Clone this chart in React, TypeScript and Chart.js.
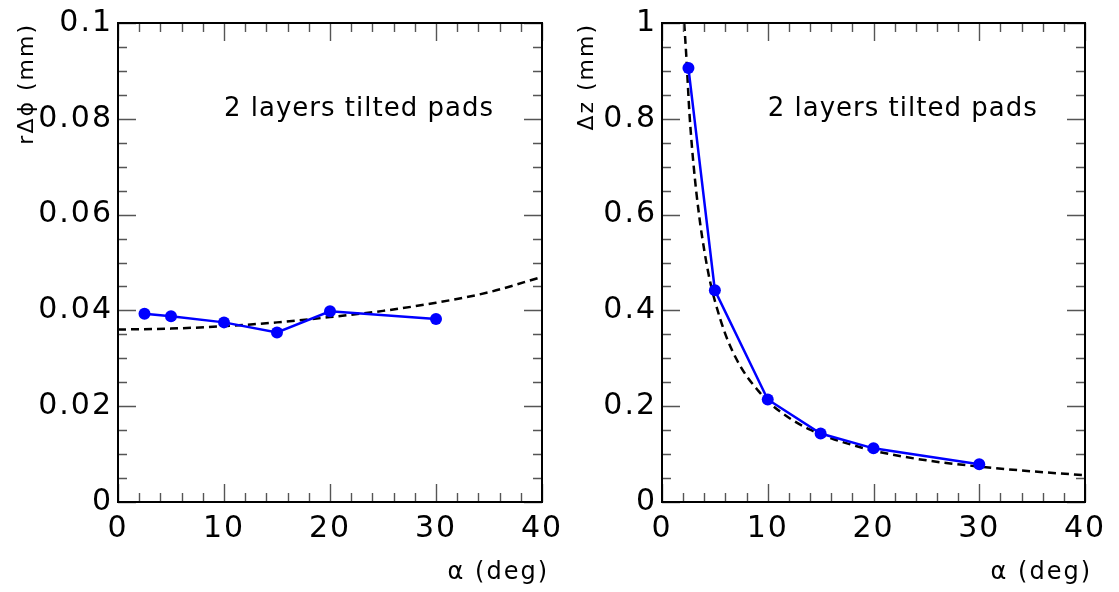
import React, { useEffect, useRef } from 'react';
import { Chart, registerables } from 'chart.js';

Chart.register(...registerables);

// ---------- data ----------
const alphaPoints = [2.5, 5, 10, 15, 20, 30];
const rPhiValues = [0.0393, 0.0388, 0.0375, 0.0354, 0.0398, 0.0382];
const dzValues = [0.906, 0.442, 0.214, 0.143, 0.112, 0.079];

const rPhiFitAlpha = [0, 5, 10, 15, 20, 25, 30, 35, 40];
const rPhiFitValues = [0.036, 0.0362, 0.0367, 0.0375, 0.0386, 0.0399, 0.0416, 0.0438, 0.047];

const dzFitAlpha = [2.1, 2.3, 2.6, 3, 3.5, 4, 4.5, 5, 6, 7, 8, 9, 10, 12, 14, 16, 18, 20, 25, 30, 35, 40];
const dzFitValues = [1.0, 0.93, 0.81, 0.7, 0.6, 0.525, 0.465, 0.42, 0.35, 0.3, 0.263, 0.235, 0.21, 0.176, 0.151, 0.133, 0.119, 0.107, 0.087, 0.074, 0.064, 0.056];

const xTicks = [0, 10, 20, 30, 40];
const rPhiTicks = [0, 0.02, 0.04, 0.06, 0.08, 0.1];
const dzTicks = [0, 0.2, 0.4, 0.6, 0.8, 1];

const labelText = '2 layers tilted pads';
const rPhiLabelAt = [10, 0.0805];
const dzLabelAt = [10, 0.805];

const xTitle = 'α (deg)';
const rPhiTitle = 'rΔϕ (mm)';
const dzTitle = 'Δz (mm)';

// ---------- style ----------
const W = 1119;
const H = 592;
const FONT = "'DejaVu Sans', sans-serif";

type PanelCfg = {
  values: number[];
  fitX: number[];
  fitY: number[];
  yTicks: number[];
  yMax: number;
  yMinorStep: number;
  xMinorStep: number;
  title: string;
  labelAt: number[];
  padLeft: number;
  yWidth: number;
  padRight: number;
};

function makePlugin(cfg: PanelCfg) {
  return {
    id: 'rootFrame',
    afterLayout(chart: any) {
      // let the x-axis title overhang the frame a little, as in the reference
      chart.scales.x.right += 7;
    },
    beforeDraw(chart: any) {
      (chart.ctx as any).letterSpacing = '2px';
    },
    afterDatasetsDraw(chart: any) {
      const ctx = chart.ctx as CanvasRenderingContext2D;
      const { left, right, top, bottom } = chart.chartArea;
      const xs = chart.scales.x;
      const ys = chart.scales.y;
      ctx.save();
      ctx.strokeStyle = '#555';
      ctx.lineWidth = 1.4;
      ctx.beginPath();
      const isMajor = (v: number, majors: number[]) => majors.some((m) => Math.abs(m - v) < 1e-9);
      for (let i = 0; ; i++) {
        const v = xs.min + i * cfg.xMinorStep;
        if (v > xs.max + 1e-9) break;
        const len = isMajor(v, xTicks) ? 18 : 9;
        const px = Math.round(xs.getPixelForValue(v)) + 0.5;
        ctx.moveTo(px, bottom);
        ctx.lineTo(px, bottom - len);
        ctx.moveTo(px, top);
        ctx.lineTo(px, top + len);
      }
      for (let i = 0; ; i++) {
        const v = ys.min + i * cfg.yMinorStep;
        if (v > ys.max + 1e-9) break;
        const len = isMajor(v, cfg.yTicks) ? 18 : 9;
        const py = Math.round(ys.getPixelForValue(v)) + 0.5;
        ctx.moveTo(left, py);
        ctx.lineTo(left + len, py);
        ctx.moveTo(right, py);
        ctx.lineTo(right - len, py);
      }
      ctx.stroke();
      ctx.strokeStyle = '#000';
      ctx.lineWidth = 2;
      ctx.strokeRect(left, top, right - left, bottom - top);
      ctx.restore();

      ctx.save();
      (ctx as any).letterSpacing = '1px';
      ctx.font = `26px ${FONT}`;
      ctx.fillStyle = '#000';
      ctx.textAlign = 'left';
      ctx.textBaseline = 'alphabetic';
      ctx.fillText(labelText, xs.getPixelForValue(cfg.labelAt[0]), ys.getPixelForValue(cfg.labelAt[1]));
      ctx.restore();
    },
  };
}

function makeConfig(cfg: PanelCfg): any {
  return {
    type: 'scatter',
    data: {
      datasets: [
        {
          data: alphaPoints.map((x, i) => ({ x, y: cfg.values[i] })),
          showLine: true,
          borderColor: '#0000ff',
          backgroundColor: '#0000ff',
          borderWidth: 2.5,
          pointRadius: 6,
          pointBorderWidth: 0,
          pointBackgroundColor: '#0000ff',
        },
        {
          data: cfg.fitX.map((x, i) => ({ x, y: cfg.fitY[i] })),
          showLine: true,
          borderColor: '#000',
          borderWidth: 2.5,
          borderDash: [8, 5],
          pointRadius: 0,
          cubicInterpolationMode: 'monotone',
        },
      ],
    },
    options: {
      responsive: false,
      animation: false,
      devicePixelRatio: 1,
      layout: { padding: { left: cfg.padLeft, top: 19, right: cfg.padRight, bottom: 0 } },
      plugins: { legend: { display: false }, tooltip: { enabled: false } },
      scales: {
        x: {
          type: 'linear',
          min: 0,
          max: 40,
          grid: { display: false, drawTicks: false },
          border: { display: false },
          ticks: {
            padding: 9,
            color: '#000',
            font: { size: 30, family: FONT },
            maxRotation: 0,
            autoSkip: false,
            callback: (v: number) => String(v),
          },
          afterBuildTicks: (s: any) => {
            s.ticks = xTicks.map((v) => ({ value: v }));
          },
          afterFit: (s: any) => {
            s.height = 90;
          },
          title: {
            display: true,
            text: xTitle,
            align: 'end',
            color: '#000',
            font: { size: 24, family: FONT },
            padding: { top: 0, bottom: 5 },
          },
        },
        y: {
          type: 'linear',
          min: 0,
          max: cfg.yMax,
          grid: { display: false, drawTicks: false },
          border: { display: false },
          ticks: {
            padding: 5,
            color: '#000',
            font: { size: 30, family: FONT },
            autoSkip: false,
            callback: (v: number) => String(v),
          },
          afterBuildTicks: (s: any) => {
            s.ticks = cfg.yTicks.map((v) => ({ value: v }));
          },
          afterFit: (s: any) => {
            s.width = cfg.yWidth;
          },
          title: {
            display: true,
            text: cfg.title,
            align: 'end',
            color: '#000',
            font: { size: 22, family: FONT },
            padding: { top: 14, bottom: 0 },
          },
        },
      },
    },
    plugins: [makePlugin(cfg)],
  };
}

const leftCfg: PanelCfg = {
  values: rPhiValues,
  fitX: rPhiFitAlpha,
  fitY: rPhiFitValues,
  yTicks: rPhiTicks,
  yMax: 0.1,
  yMinorStep: 0.005,
  xMinorStep: 2,
  title: rPhiTitle,
  labelAt: rPhiLabelAt,
  padLeft: 0,
  yWidth: 118,
  padRight: W - 542,
};

const rightCfg: PanelCfg = {
  values: dzValues,
  fitX: dzFitAlpha,
  fitY: dzFitValues,
  yTicks: dzTicks,
  yMax: 1,
  yMinorStep: 0.05,
  xMinorStep: 2,
  title: dzTitle,
  labelAt: dzLabelAt,
  padLeft: 560,
  yWidth: 102,
  padRight: W - 1085,
};

export default function App() {
  const leftRef = useRef<HTMLCanvasElement>(null);
  const rightRef = useRef<HTMLCanvasElement>(null);

  useEffect(() => {
    Chart.defaults.font.family = FONT;
    Chart.defaults.color = '#000';
    const c1 = new Chart(leftRef.current as HTMLCanvasElement, makeConfig(leftCfg));
    const c2 = new Chart(rightRef.current as HTMLCanvasElement, makeConfig(rightCfg));
    return () => {
      c1.destroy();
      c2.destroy();
    };
  }, []);

  const canvasStyle: React.CSSProperties = { position: 'absolute', left: 0, top: 0 };
  return (
    <div style={{ position: 'fixed', left: 0, top: 0, width: W, height: H, background: '#fff' }}>
      <canvas ref={leftRef} width={W} height={H} style={canvasStyle} />
      <canvas ref={rightRef} width={W} height={H} style={canvasStyle} />
    </div>
  );
}
